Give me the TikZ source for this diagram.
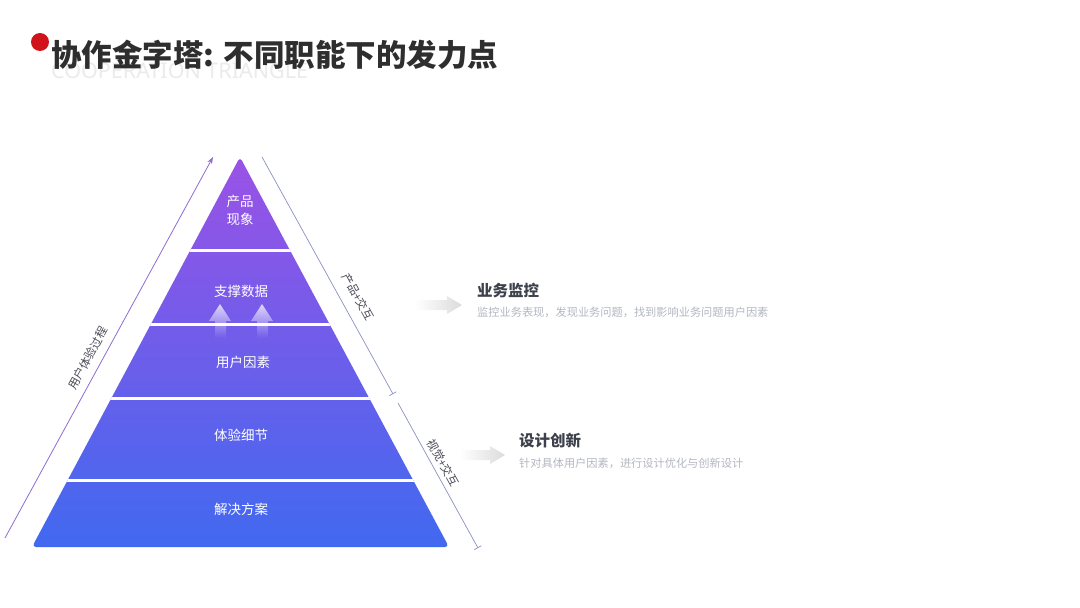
\documentclass[tikz,border=0pt]{standalone}
\usepackage{fontspec}
\setmainfont{Noto Sans CJK SC}
\newfontfamily\latinsans{Noto Sans}
\usetikzlibrary{fadings,arrows.meta}
\definecolor{ptop}{HTML}{9A52E6}
\definecolor{pbot}{HTML}{4169EF}
\definecolor{titlec}{HTML}{2E2E2E}
\definecolor{redc}{HTML}{D0121B}
\definecolor{ghostc}{HTML}{EBEBEB}
\definecolor{linec}{HTML}{8C90C4}
\definecolor{arrc}{HTML}{8E6CD2}
\definecolor{headc}{HTML}{3C414C}
\definecolor{descc}{HTML}{B3B7C2}
\definecolor{sidec}{HTML}{4A4A55}
\tikzfading[name=upfade, top color=transparent!25, bottom color=transparent!100]
\tikzset{
  lab/.style={text=white, font=\fontsize{13.5}{18}\selectfont, align=center, inner sep=0},
  sidelab/.style={text=sidec, font=\fontsize{11.5}{13}\selectfont, inner sep=0},
  headtxt/.style={anchor=west, text=headc, font=\fontsize{15.5}{18}\selectfont\bfseries, inner sep=0},
  desctxt/.style={anchor=west, text=descc, font=\fontsize{11.2}{13}\selectfont, inner sep=0},
  grayarrow/.style={left color=white, right color=black!14},
  uparrow/.style={fill=white, path fading=upfade},
  sepline/.style={white, line width=3},
}
\begin{document}
\begin{tikzpicture}[x=1pt,y=-1pt]
\useasboundingbox (0,0) rectangle (1080,608);
\fill[white] (0,0) rectangle (1080,608);

% title
\node[anchor=west, inner sep=0, text=ghostc, font=\latinsans\fontsize{21.5}{24}\selectfont] (ghost) at (51,71) {COOPERATION TRIANGLE};
\fill[redc] (40,42) circle (9);
\node[anchor=west, inner sep=0, text=titlec, font=\fontsize{30.5}{34}\selectfont\bfseries] (title) at (51,55) {协作金字塔: 不同职能下的发力点};

% pyramid
\coordinate (apex) at (240,157);
\coordinate (bl) at (32,547);
\coordinate (br) at (449,547);
\shade[top color=ptop, bottom color=pbot, rounded corners=4] (bl) -- (apex) -- (br) -- cycle;

% upward arrows
\fill[uparrow] (220,304) -- (231,321) -- (226,321) -- (226,338) -- (215,338) -- (215,321) -- (209,321) -- cycle;
\fill[uparrow] (262,304) -- (273,321) -- (268,321) -- (268,338) -- (257,338) -- (257,321) -- (251,321) -- cycle;

\begin{scope}
\clip (bl) -- (apex) -- (br) -- cycle;
\foreach \yy in {250.5,324.5,398.5,480} \draw[sepline] (0,\yy) -- (500,\yy);
\end{scope}

\node[lab] (l1) at (240,210) {产品\\现象};
\node[lab] (l2) at (241,291) {支撑数据};
\node[lab] (l3) at (243,362) {用户因素};
\node[lab] (l4) at (241,435) {体验细节};
\node[lab] (l5) at (241,509) {解决方案};

% left arrow
\coordinate (la0) at (5,538);
\coordinate (la1) at (213,157);
\draw[arrc, line width=0.8, -{Stealth[length=7pt,width=5pt]}] (la0) -- (la1);
\node[sidelab, rotate=61.4] (lt) at (88,358) {用户体验过程};

% right lines
\coordinate (r1a) at (262,157);
\coordinate (r1b) at (393,394);
\coordinate (r2a) at (398,403);
\coordinate (r2b) at (478,548);
\draw[linec, line width=0.7, -{Bar[width=8pt]}] (r1a) -- (r1b);
\draw[linec, line width=0.7, -{Bar[width=8pt]}] (r2a) -- (r2b);
\node[sidelab, rotate=-61] (rt1) at (358,297) {产品+交互};
\node[sidelab, rotate=-61] (rt2) at (443,463) {视觉+交互};

% gray arrows
\shade[grayarrow] (415,300) -- (447,300) -- (447,296) -- (462,305) -- (447,314) -- (447,310) -- (415,310) -- cycle;
\shade[grayarrow] (460,450) -- (490,450) -- (490,446) -- (505,455) -- (490,464) -- (490,460) -- (460,460) -- cycle;

% texts
\node[headtxt] (h1) at (477,291) {业务监控};
\node[desctxt] (d1) at (477,312) {监控业务表现，发现业务问题，找到影响业务问题用户因素};
\node[headtxt] (h2) at (519,441) {设计创新};
\node[desctxt] (d2) at (519,463) {针对具体用户因素，进行设计优化与创新设计};
\end{tikzpicture}
\end{document}
